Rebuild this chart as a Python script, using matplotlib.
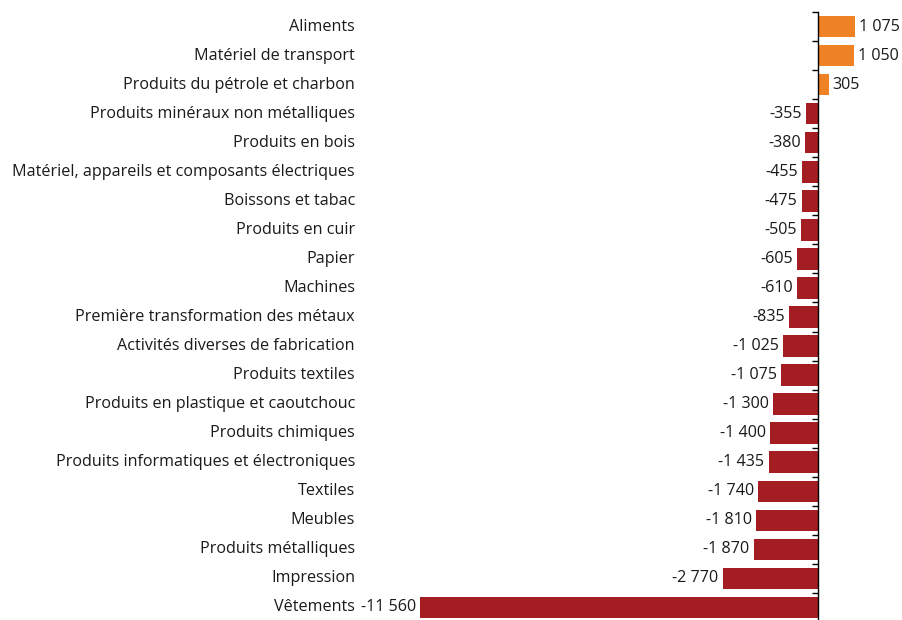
import matplotlib.pyplot as plt

# Données
categories = [
    "Aliments", "Matériel de transport", "Produits du pétrole et charbon",
    "Produits minéraux non métalliques", "Produits en bois",
    "Matériel, appareils et composants électriques", "Boissons et tabac",
    "Produits en cuir", "Papier", "Machines",
    "Première transformation des métaux",
    "Activités diverses de fabrication", "Produits textiles",
    "Produits en plastique et caoutchouc", "Produits chimiques",
    "Produits informatiques et électroniques", "Textiles", "Meubles",
    "Produits métalliques", "Impression", "Vêtements",
]
values = [1075, 1050, 305, -355, -380, -455, -475, -505, -605, -610, -835,
          -1025, -1075, -1300, -1400, -1435, -1740, -1810, -1870, -2770,
          -11560]

ORANGE = "#F08226"
RED = "#A31D22"
FS = 11.6

plt.rcParams['font.family'] = ['Open Sans', 'DejaVu Sans']

W, H = 903, 620
fig = plt.figure(figsize=(W / 100, H / 100), dpi=100)

# axes en pixels : gauche 360, droite 880 ; haut 12, bas 622
left, right, top, bottom = 360, 880, 12, 622
ax = fig.add_axes([left / W, 1 - bottom / H, (right - left) / W, (bottom - top) / H])

scale = 398 / 11560  # px par unité
ax.set_xlim(-(818 - left) / scale, (right - 818) / scale)
n = len(categories)
ax.set_ylim(n - 0.5, -0.5)

colors = [ORANGE if v > 0 else RED for v in values]
ax.barh(range(n), values, height=0.74, color=colors, edgecolor="none")

def fmt(v):
    s = f"{abs(v):,}".replace(",", " ")
    return ("-" if v < 0 else "") + s

for i, v in enumerate(values):
    if v > 0:
        ax.annotate(fmt(v), (v, i), xytext=(3, 0), textcoords="offset points",
                    ha="left", va="center", fontsize=FS, color="#1a1a1a")
    else:
        ax.annotate(fmt(v), (v, i), xytext=(-3, 0), textcoords="offset points",
                    ha="right", va="center", fontsize=FS, color="#1a1a1a")

# libellés des catégories
for i, c in enumerate(categories):
    ax.text(-5 / (right - left), i, c, transform=ax.get_yaxis_transform(),
            ha="right", va="center", fontsize=FS, color="#1a1a1a")

# axe vertical à zéro avec graduations entre catégories
for s in ["top", "right", "bottom"]:
    ax.spines[s].set_visible(False)
ax.spines["left"].set_position(("data", 0))
ax.spines["left"].set_color("black")
ax.spines["left"].set_linewidth(1)
ax.set_yticks([i - 0.5 for i in range(n + 1)])
ax.set_yticklabels([])
ax.tick_params(axis="y", direction="out", length=4, width=1, color="black")
ax.set_xticks([])

fig.savefig("out.png", dpi=100)
